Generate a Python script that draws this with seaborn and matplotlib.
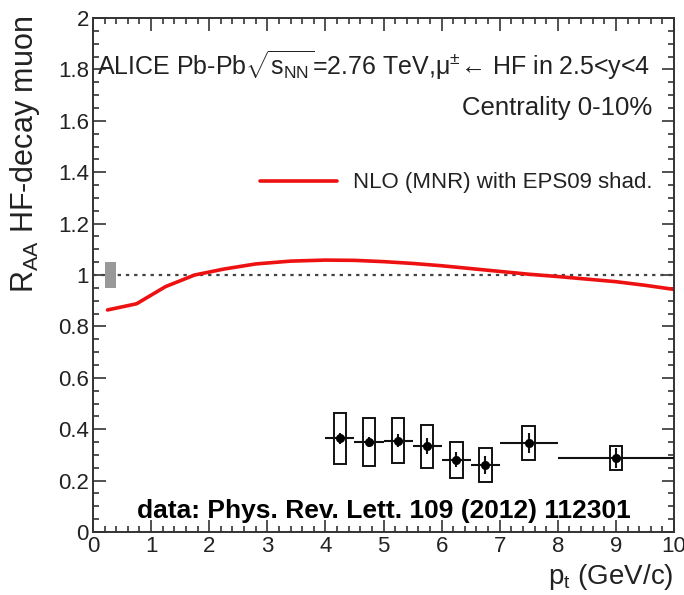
import numpy as np
import pandas as pd
import seaborn as sns
import matplotlib
matplotlib.use("Agg")
import matplotlib.pyplot as plt
from matplotlib.patches import Rectangle
from matplotlib.ticker import MultipleLocator, FormatStrFormatter

# ---- data ----
curve_pt = [0.25, 0.75, 1.25, 1.75, 2.25, 2.8, 3.4, 4.0, 4.5, 5.0, 5.5, 6.0,
            6.5, 7.0, 7.5, 8.0, 8.5, 9.0, 9.5, 10.0]
curve_raa = [0.864, 0.888, 0.955, 1.000, 1.023, 1.043, 1.054, 1.058, 1.057,
             1.052, 1.045, 1.036, 1.025, 1.014, 1.003, 0.994, 0.984, 0.974,
             0.960, 0.944]

pt = [4.25, 4.75, 5.25, 5.75, 6.25, 6.75, 7.5, 9.0]
pt_lo = [4.0, 4.5, 5.0, 5.5, 6.0, 6.5, 7.0, 8.0]
pt_hi = [4.5, 5.0, 5.5, 6.0, 6.5, 7.0, 8.0, 10.0]
raa = [0.364, 0.350, 0.355, 0.334, 0.282, 0.262, 0.346, 0.288]
stat = [0.020, 0.020, 0.025, 0.030, 0.030, 0.035, 0.040, 0.040]
syst = [0.100, 0.092, 0.088, 0.084, 0.070, 0.066, 0.065, 0.048]

norm_pt = 0.3
norm_unc = 0.05

title_txt = "ALICE Pb-Pb$\\sqrt{\\mathrm{s}_{\\mathrm{NN}}}$=2.76 TeV,μ$^{\\pm}$← HF in 2.5<y<4"
cent_txt = "Centrality 0-10%"
legend_txt = "NLO (MNR) with EPS09 shad."
ref_txt = "data: Phys. Rev. Lett. 109 (2012) 112301"

# ---- style ----
sns.set_style("ticks")
plt.rcParams["font.family"] = ["Liberation Sans", "DejaVu Sans"]
plt.rcParams["mathtext.fontset"] = "custom"
plt.rcParams["mathtext.rm"] = "Liberation Sans"
plt.rcParams["mathtext.it"] = "Liberation Sans:italic"
plt.rcParams["mathtext.bf"] = "Liberation Sans:bold"

fig = plt.figure(figsize=(6.84, 5.95), dpi=100)
ax = fig.add_axes([93 / 684, 63 / 595, 581 / 684, 514 / 595])

txtc = "#222222"

curve_df = pd.DataFrame({"pt": curve_pt, "raa": curve_raa})
sns.lineplot(data=curve_df, x="pt", y="raa", color="#ee1111", lw=2.6, ax=ax,
             label=legend_txt)

ax.axhline(1.0, color="#444444", lw=1.6, ls=(0, (1.5, 2.2)), zorder=1)

ax.add_patch(Rectangle((norm_pt - 0.1, 1 - norm_unc), 0.2, 2 * norm_unc,
                       facecolor="#999999", edgecolor="none", zorder=2))

bw = 0.22
for x, y, s in zip(pt, raa, syst):
    ax.add_patch(Rectangle((x - bw / 2, y - s), bw, 2 * s, facecolor="none",
                           edgecolor="#111111", lw=1.4, zorder=3))

xerr = [np.array(pt) - np.array(pt_lo), np.array(pt_hi) - np.array(pt)]
ax.errorbar(pt, raa, xerr=xerr, yerr=stat, fmt="none", ecolor="#111111",
            elinewidth=1.5, capsize=0, zorder=4)

pts_df = pd.DataFrame({"pt": pt, "raa": raa})
sns.scatterplot(data=pts_df, x="pt", y="raa", color="black", s=36,
                marker="o", edgecolor="black", ax=ax, zorder=5, legend=False)

ax.set_xlim(0, 10)
ax.set_ylim(0, 2)
ax.xaxis.set_major_locator(MultipleLocator(1))
ax.xaxis.set_minor_locator(MultipleLocator(0.2))
ax.yaxis.set_major_locator(MultipleLocator(0.2))
ax.yaxis.set_minor_locator(MultipleLocator(0.05))
ax.yaxis.set_major_formatter(FormatStrFormatter("%g"))
ax.tick_params(which="both", direction="in", top=True, right=True,
               colors="#333333", labelcolor=txtc, width=1.2)
ax.tick_params(which="major", length=9, labelsize=16, pad=3)
ax.tick_params(which="minor", length=4.5)
for sp in ax.spines.values():
    sp.set_color("#333333")
    sp.set_linewidth(1.4)

ax.set_xlabel("p$_{\\mathrm{t}}$ (GeV/c)", fontsize=20, color=txtc, loc="right")
ax.xaxis.set_label_coords(1.0, -0.058)
ax.set_ylabel("R$_{\\mathrm{AA}}$ HF-decay muon", fontsize=22, color=txtc, loc="top")
ax.yaxis.set_label_coords(-0.088, 1.005)

ax.text(0.007, 0.889, title_txt, transform=ax.transAxes, fontsize=18,
        color=txtc, ha="left", va="baseline")
ax.text(0.962, 0.811, cent_txt, transform=ax.transAxes, fontsize=18.5,
        color=txtc, ha="right", va="baseline")
ax.text(0.076, 0.027, ref_txt, transform=ax.transAxes, fontsize=19,
        color="black", ha="left", va="baseline", fontweight="bold")

leg = ax.legend(loc="center right", bbox_to_anchor=(0.963, 0.679), frameon=False,
                fontsize=16, handlelength=3.5, handletextpad=0.7,
                borderpad=0, borderaxespad=0)
for t in leg.get_texts():
    t.set_color(txtc)

fig.savefig("out.png", dpi=100)
